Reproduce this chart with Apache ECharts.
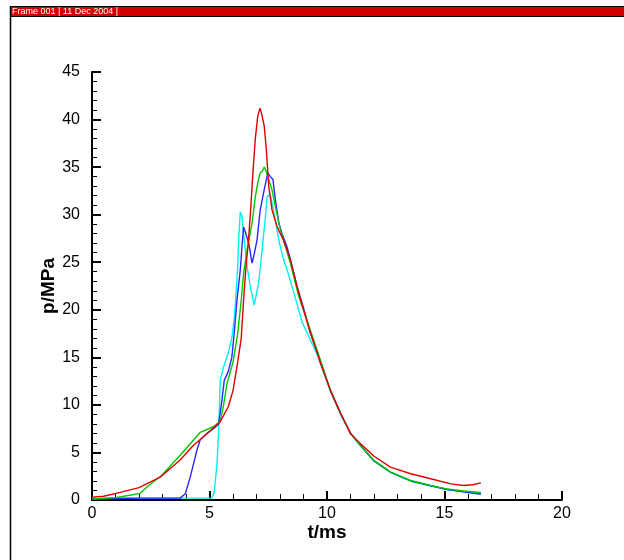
<!DOCTYPE html>
<html>
<head>
<meta charset="utf-8">
<script src="https://cdn.jsdelivr.net/npm/echarts@6/dist/echarts.min.js"></script>
<style>
html, body { margin: 0; padding: 0; background: #fff; }
#chart { width: 624px; height: 560px; }
</style>
</head>
<body>
<div id="chart"></div>
<script>
// pressure curves, [t (ms), p (MPa)]
var redData = [[0,0.3],[0.5,0.4],[1.2,0.8],[2.0,1.3],[2.9,2.4],[3.75,4.2],[4.3,5.7],[4.9,7.0],[5.45,8.2],[5.8,9.8],[6.0,11.5],[6.2,14.5],[6.35,17],[6.45,21],[6.55,24.5],[6.65,27],[6.75,30.5],[6.85,34.5],[6.95,38],[7.05,40.3],[7.15,41.2],[7.22,40.6],[7.33,39.3],[7.42,36.8],[7.52,33],[7.66,30.5],[7.88,28.7],[8.15,27.3],[8.44,25.3],[8.73,22.4],[9.0,20],[9.3,17.5],[9.58,15.5],[9.72,14.4],[10.15,11.5],[10.58,9.1],[11.0,7.0],[11.43,5.9],[12.0,4.6],[12.7,3.46],[13.56,2.76],[14.41,2.23],[15.27,1.7],[15.83,1.53],[16.2,1.6],[16.55,1.8]];
var greenData = [[0,0.1],[1.0,0.25],[1.6,0.5],[2.05,0.7],[2.35,1.4],[2.97,2.6],[3.75,4.7],[4.32,6.3],[4.6,7.1],[5.17,7.7],[5.46,8.3],[5.6,10],[5.74,12.2],[6.0,14.5],[6.2,17.5],[6.35,21],[6.45,23.8],[6.62,26.6],[6.81,29.1],[6.95,31.9],[7.05,33.3],[7.16,34.4],[7.25,34.6],[7.33,35],[7.42,34.5],[7.52,33.7],[7.66,32.6],[7.8,30.9],[8.02,28.4],[8.44,24.9],[8.8,21.4],[9.15,18.9],[9.58,15.75],[10.15,11.5],[10.58,9.1],[11.0,7.0],[11.43,5.7],[12.0,4.16],[12.71,2.93],[13.56,2.05],[14.41,1.53],[15.12,1.15],[15.8,0.95],[16.55,0.8]];
var blueData = [[0,0.1],[1,0.15],[2,0.2],[3,0.2],[3.75,0.2],[3.97,0.65],[4.18,2.4],[4.32,3.8],[4.46,5.2],[4.6,6.3],[4.89,7.0],[5.17,7.5],[5.39,8.0],[5.53,10.5],[5.63,12.6],[5.8,13.5],[5.95,15],[6.05,17.5],[6.17,21],[6.31,24.2],[6.38,26.6],[6.45,28.7],[6.52,28.2],[6.67,27],[6.81,24.9],[6.88,25.6],[7.02,27.3],[7.16,30.5],[7.3,32.3],[7.48,34.4],[7.59,34],[7.7,33.7],[7.8,31.6],[7.95,29.1],[8.09,28],[8.3,26.6],[8.52,24.5],[8.73,22.4],[9.0,20.2],[9.3,17.5],[9.58,15.6],[10.15,11.5],[10.58,9.1],[11.0,7.0],[11.43,5.7],[12.0,4.1],[12.71,2.9],[13.56,2.0],[14.41,1.5],[15.12,1.1],[15.8,0.85],[16.55,0.6]];
var cyanData = [[0,0.15],[2,0.2],[4,0.2],[5.1,0.2],[5.2,0.8],[5.32,3.8],[5.39,7.3],[5.46,12.6],[5.6,14],[5.8,15.5],[5.95,17],[6.05,19],[6.14,22],[6.2,24.5],[6.24,27.3],[6.31,30.3],[6.38,29.8],[6.48,27.3],[6.6,24.5],[6.74,22.4],[6.9,20.5],[7.09,22.8],[7.24,26.3],[7.38,29.8],[7.45,31.9],[7.59,32.1],[7.8,29.5],[7.95,27.3],[8.16,25.2],[8.3,24.2],[8.59,21.8],[8.94,18.7],[9.3,16.8],[9.58,15.3],[10.15,11.4],[10.58,9.0],[11.0,7.0],[11.43,5.7],[12.0,4.1],[12.71,2.9],[13.56,2.0],[14.41,1.5],[15.12,1.1],[15.8,0.9],[16.55,0.7]];

var seriesColors = ['#e00000', '#00c800', '#2828ff', '#00f0f0'];
var frameText = 'Frame 001 | 11 Dec 2004 |';

var chart = echarts.init(document.getElementById('chart'));

function line(data, color) {
	return {
		type: 'line',
		data: data,
		showSymbol: false,
		symbol: 'none',
		silent: true,
		lineStyle: { color: color, width: 1.4 }
	};
}

var axisFont = 'Liberation Sans, Arial, sans-serif';

var option = {
	animation: false,
	backgroundColor: '#fff',
	grid: { left: 92, right: 62, top: 72, bottom: 60 },
	xAxis: {
		type: 'value',
		min: 0, max: 20, interval: 5,
		name: 't/ms',
		nameLocation: 'middle',
		nameGap: 23,
		nameMoveOverlap: false,
		nameTextStyle: { color: '#000', fontSize: 19, fontWeight: 'bold', fontFamily: axisFont, verticalAlign: 'top' },
		axisLine: { lineStyle: { color: '#000', width: 2 } },
		axisTick: { inside: true, length: 9, lineStyle: { color: '#000', width: 2 } },
		minorTick: { show: true, splitNumber: 5, length: 6, lineStyle: { color: '#000', width: 1 } },
		splitLine: { show: false },
		axisLabel: { color: '#000', fontSize: 16, fontFamily: axisFont, margin: 6, showMaxLabel: true }
	},
	yAxis: {
		type: 'value',
		min: 0, max: 45, interval: 5,
		name: 'p/MPa',
		nameLocation: 'middle',
		nameGap: 34,
		nameRotate: 90,
		nameMoveOverlap: false,
		nameTextStyle: { color: '#000', fontSize: 19, fontWeight: 'bold', fontFamily: axisFont },
		axisLine: { show: true, lineStyle: { color: '#000', width: 2 } },
		axisTick: { show: true, inside: true, length: 9, lineStyle: { color: '#000', width: 2 } },
		minorTick: { show: true, splitNumber: 5, length: 5, lineStyle: { color: '#000', width: 1 } },
		splitLine: { show: false },
		axisLabel: { color: '#000', fontSize: 16, fontFamily: axisFont, margin: 12 }
	},
	graphic: [
		{ type: 'rect', shape: { x: 10.5, y: 6.5, width: 620, height: 10 }, style: { fill: '#d40000', stroke: '#000', lineWidth: 1 }, z: 10 },
		{ type: 'line', shape: { x1: 10.5, y1: 6, x2: 10.5, y2: 560 }, style: { stroke: '#000', lineWidth: 1.5 }, z: 10 },
		{ type: 'text', x: 12, y: 7, style: { text: frameText, fill: '#fff', font: '9px Liberation Sans, Arial, sans-serif', textVerticalAlign: 'top' }, z: 11 }
	],
	series: [
		line(cyanData, seriesColors[3]),
		line(blueData, seriesColors[2]),
		line(greenData, seriesColors[1]),
		line(redData, seriesColors[0])
	]
};

chart.setOption(option);
</script>
</body>
</html>
